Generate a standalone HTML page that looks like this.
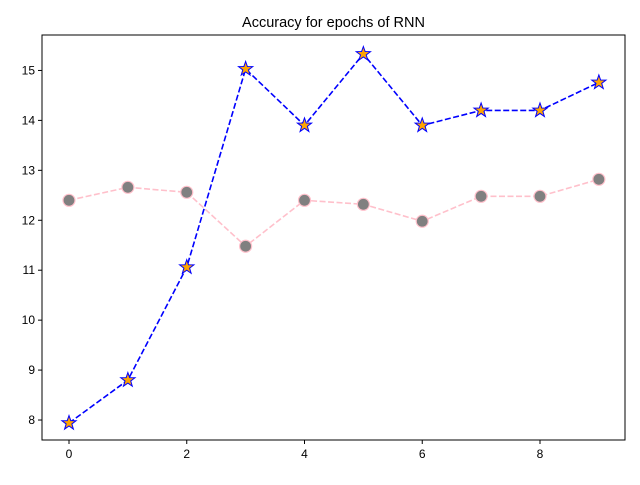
<!DOCTYPE html>
<html><head><meta charset="utf-8"><style>body{margin:0;background:#fff}svg{font-family:"Liberation Sans","DejaVu Sans",sans-serif}</style></head>
<body>
<svg id="chart" width="640" height="480">
<rect width="640" height="480" fill="#fff"/>
<text x="333.5" y="27" text-anchor="middle" font-size="14.5">Accuracy for epochs of RNN</text>
<g id="plot"></g>
</svg>
<script>
const epochs=[0,1,2,3,4,5,6,7,8,9];
const rnnValues=[7.94,8.8,11.06,15.03,13.9,15.33,13.9,14.2,14.2,14.76];
const otherValues=[12.4,12.66,12.56,11.48,12.4,12.32,11.98,12.48,12.48,12.82];
const xTicks=[0,2,4,6,8];
const yTicks=[8,9,10,11,12,13,14,15];
const L=42,R=625,T=35,B=440,xmin=-0.4586,xmax=9.444,ymin=7.6,ymax=15.71;
const X=v=>L+(v-xmin)/(xmax-xmin)*(R-L);
const Y=v=>B-(v-ymin)/(ymax-ymin)*(B-T);
const g=document.getElementById('plot');const NS='http://www.w3.org/2000/svg';
function mk(t,a,p){const e=document.createElementNS(NS,t);for(const k in a)e.setAttribute(k,a[k]);(p||g).appendChild(e);return e;}
xTicks.forEach(v=>{
 const l=mk('line',{x1:X(v),x2:X(v),y1:B,y2:B+4,stroke:'#000'});
 
 
 const t=mk('text',{x:X(v),y:B+18,'text-anchor':'middle','font-size':'12'});t.textContent=v;
 
 
});
yTicks.forEach(v=>{
 const l=mk('line',{x1:L-4,x2:L,y1:Y(v),y2:Y(v),stroke:'#000'});
 
 
 const t=mk('text',{x:L-7,y:Y(v)+4,'text-anchor':'end','font-size':'12'});t.textContent=v;
 
 
});
const p2=mk('polyline',{points:epochs.map((e,i)=>X(e)+','+Y(otherValues[i])).join(' '),fill:'none',stroke:'pink','stroke-width':1.6,'stroke-dasharray':'6,2.5'});


epochs.forEach((e,i)=>{const c=mk('circle',{cx:X(e),cy:Y(otherValues[i]),r:6,fill:'gray',stroke:'pink','stroke-width':1.2});
 
 });
const p1=mk('polyline',{points:epochs.map((e,i)=>X(e)+','+Y(rnnValues[i])).join(' '),fill:'none',stroke:'blue','stroke-width':1.6,'stroke-dasharray':'6,2.5'});


function star(cx,cy,r){let pts=[];for(let k=0;k<10;k++){const rr=k%2?r*0.4:r;const a=-Math.PI/2+k*Math.PI/5;pts.push((cx+rr*Math.cos(a)).toFixed(2)+','+(cy+rr*Math.sin(a)).toFixed(2));}return pts.join(' ');}
epochs.forEach((e,i)=>{const s=mk('polygon',{points:star(X(e),Y(rnnValues[i]),7.5),fill:'orange',stroke:'blue','stroke-width':1});
 
 });
const f=mk('rect',{x:L,y:T,width:R-L,height:B-T,fill:'none',stroke:'#000','stroke-width':1});


</script>
</body></html>
